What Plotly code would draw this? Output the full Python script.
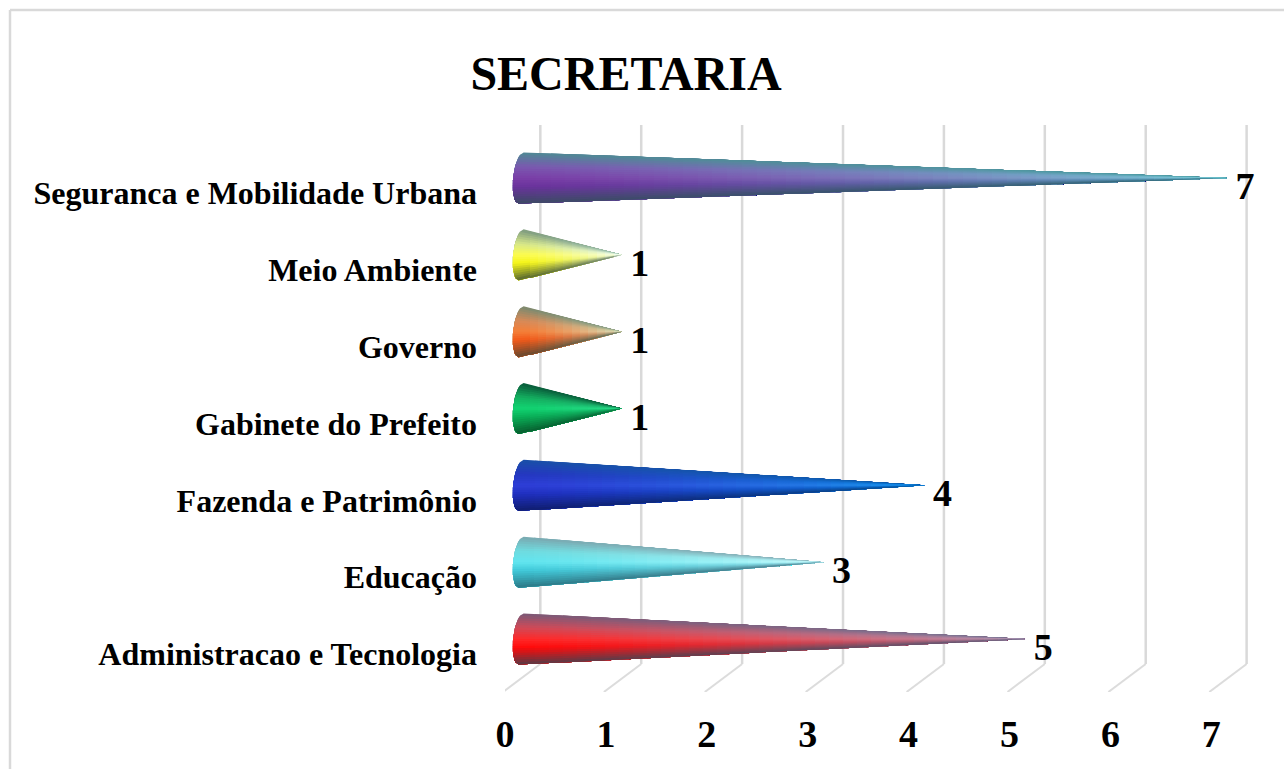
import numpy as np
import plotly.graph_objects as go

# ---- data ----
categories = ["Administracao e Tecnologia", "Educação", "Fazenda e Patrimônio",
              "Gabinete do Prefeito", "Governo", "Meio Ambiente",
              "Seguranca e Mobilidade Urbana"]
values = [5, 3, 4, 1, 1, 1, 7]
x_ticks = [0, 1, 2, 3, 4, 5, 6, 7]
title_text = "SECRETARIA"

# ---- style ----
FONT = "Liberation Serif"
W, H_PX = 1284, 769
L, R, T, B = 505, 7, 125, 77
UX = 100.9   # px per value unit
UY = 76.83   # px per category
x_max = (W - L - R) / UX
y_low = -(692 - 654) / UY
y_high = 6 + (193 - 125) / UY

cross = [-1, -0.45, 0, 0.35, 1]
base_colors = [
    ["#7a5a78", "#d04a58", "#ff2a2a", "#ff0a0a", "#5a3a45"],
    ["#7aa8b0", "#70dce0", "#62e6f0", "#40c8d8", "#2d7a88"],
    ["#1a50a8", "#2538c0", "#2f3fd8", "#2030c0", "#101e70"],
    ["#0a5a3a", "#14b060", "#12d472", "#0ab058", "#086030"],
    ["#7a8a70", "#d88a58", "#f57f38", "#f25a1a", "#6a4a30"],
    ["#7d9a80", "#d8e88a", "#fdfd50", "#f5f51a", "#5a6a30"],
    ["#4f8a94", "#7a5ab0", "#7b3fa8", "#6a339c", "#3d4a66"],
]
tip_colors = [
    ["#7a7a98", "#a090b0", "#b09ab8", "#9088a8", "#605a78"],
    ["#90b8c0", "#c0f4f8", "#d0ffff", "#a0e0e8", "#508090"],
    ["#0a60b0", "#1090e8", "#20a0f0", "#0a80d8", "#085090"],
    ["#0a6a40", "#20b070", "#30e090", "#18b068", "#0a6a3a"],
    ["#90a890", "#c8dcb0", "#d8e8c8", "#b0c0a0", "#607860"],
    ["#a0c8b8", "#e8fbf0", "#f5ffff", "#e8f8f8", "#708878"],
    ["#4fa0a8", "#6fc8d0", "#7cd0d8", "#5ab0c0", "#2f6a78"],
]


def rgb(h):
    return np.array([int(h[i:i + 2], 16) for i in (1, 3, 5)], float)


def ramp(stops, f):
    arr = np.array([rgb(s) for s in stops])
    return np.array([np.interp(f, cross, arr[:, c]) for c in range(3)])


fig = go.Figure()

# wall and floor grid lines, skewed like the 3D original
BACK = 0.35
FLOOR_Y = (654 - 664) / UY
for t in x_ticks:
    fig.add_trace(go.Scatter(x=[t + BACK, t + BACK], y=[y_high, FLOOR_Y], mode="lines",
                             line=dict(color="#d9d9d9", width=2.5), hoverinfo="skip", showlegend=False))
    fig.add_trace(go.Scatter(x=[t + BACK, t - 0.02], y=[FLOOR_Y, y_low], mode="lines",
                             line=dict(color="#dcdcdc", width=2), hoverinfo="skip", showlegend=False))

# cones: each one is built from its value, painted back to front in overlapping slices
X0 = 0.16
RX = 8 / UX
SK = -2.5 / UX
HALF = 25.5 / UY
OFF = 15 / UY
N_STRIP = 22
ell = np.linspace(-1, 1, 25)


def left_edge(f):
    return X0 - RX * np.sqrt(np.clip(1 - f * f, 0, 1)) + SK * f


for i, v in enumerate(values):
    yc = i + OFF
    tip = X0 + v
    M = 6 + 6 * v
    strips = np.linspace(-1, 1, N_STRIP + 1)[:-1]
    for k in range(M):
        # slice starts fall on whole pixels so that their edges leave no seam
        xk = round((X0 + v * k / M) * UX) / UX
        s = (xk - X0) / v
        if k == 0:
            s = 0.0
        shade = s ** 1.3
        for f in strips:
            fm = min(f + 1 / N_STRIP, 1)
            col = (1 - shade) * ramp(base_colors[i], fm) + shade * ramp(tip_colors[i], fm)
            c = "rgb(%d,%d,%d)" % tuple(col)
            if k == 0:
                fs = ell[ell >= f]
                fs = np.r_[f, fs]
                xs = list(left_edge(fs)[::-1]) + [tip]
                ys = list((yc - fs * HALF)[::-1]) + [yc]
            else:
                w = HALF * (1 - s)
                xs = [xk, xk, tip]
                ys = [yc - w, yc - f * w, yc]
            xs.append(xs[0])
            ys.append(ys[0])
            fig.add_trace(go.Scatter(x=xs, y=ys, mode="lines", fill="toself", fillcolor=c,
                                     line=dict(width=0), hoverinfo="skip", showlegend=False))

# value labels
fig.add_trace(go.Scatter(
    x=[v + BACK - 0.015 for v in values], y=[i + OFF - 11.5 / UY for i in range(len(values))],
    mode="text", text=[f"<b>{v}</b>" for v in values], textposition="middle center",
    textfont=dict(family=FONT, size=38, color="black"), hoverinfo="skip", showlegend=False, cliponaxis=False))

fig.update_layout(
    width=W, height=H_PX, margin=dict(l=L, r=R, t=T, b=B, pad=0, autoexpand=False),
    paper_bgcolor="white", plot_bgcolor="white", showlegend=False,
    title=dict(text=title_text, x=626 / W, xanchor="center", xref="container",
               y=1 - 73 / H_PX, yanchor="middle", yref="container",
               font=dict(family=FONT, size=48, color="black", weight="bold")),
    xaxis=dict(range=[0, x_max], tickmode="array", tickvals=x_ticks, ticktext=[f"<b>{t}</b>" for t in x_ticks],
               showgrid=False, zeroline=False, showline=False, ticks="", ticklabelstandoff=16,
               tickfont=dict(family=FONT, size=38, color="black")),
    yaxis=dict(range=[y_low, y_high], tickmode="array", tickvals=list(range(len(categories))),
               ticktext=[f"<b>{c}</b>" for c in categories],
               showgrid=False, zeroline=False, showline=False, ticks="", ticklabelstandoff=27,
               tickfont=dict(family=FONT, size=32, color="black")),
)

# chart frame: only its top and left edges are in view
px = lambda p: (p - L) / (W - L - R)
py = lambda p: 1 - (p - T) / (H_PX - T - B)
frame = dict(color="#d9d9d9", width=2.5)
fig.add_shape(type="line", xref="paper", yref="paper", x0=px(10), x1=px(W), y0=py(10), y1=py(10), line=frame)
fig.add_shape(type="line", xref="paper", yref="paper", x0=px(10), x1=px(10), y0=py(10), y1=py(H_PX), line=frame)

fig.write_html("out.html", config={"displayModeBar": False},
               post_script="document.body.style.margin='0';document.body.style.overflow='hidden';")
